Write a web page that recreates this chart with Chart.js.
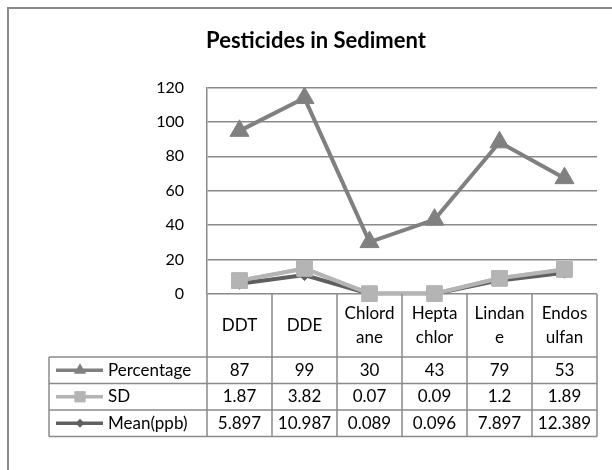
<!DOCTYPE html>
<html><head><meta charset="utf-8">
<script src="https://cdn.jsdelivr.net/npm/chart.js@4.4.1/dist/chart.umd.min.js"></script>
<style>html,body{margin:0;padding:0;background:#fff}#wrap{width:612px;height:470px;position:relative}</style>
</head><body><div id="wrap"><canvas id="c" width="612" height="470"></canvas></div>
<script>
const categories = ["DDT","DDE","Chlordane","Heptachlor","Lindane","Endosulfan"];
const headerLabels = [["DDT"],["DDE"],["Chlord","ane"],["Hepta","chlor"],["Lindan","e"],["Endos","ulfan"]];
const meanPpb = [5.897,10.987,0.089,0.096,7.897,12.389];
const sdValues = [1.87,3.82,0.07,0.09,1.2,1.89];
const percentage = [87,99,30,43,79,53];
const seriesNames = ["Mean(ppb)","SD","Percentage"];
const yMin = 0, yMax = 120, yStep = 20;

const FONT = "Lato, 'Open Sans', sans-serif";
const GRID = "#8a8a8a";
const C_PCT = "#808080", C_SD = "#b4b4b4", C_MEAN = "#5f5f5f";

function drawMarker(ctx, style, x, y, r, color){
  ctx.save(); ctx.fillStyle = color; ctx.beginPath();
  if (style === 'triangle'){
    ctx.moveTo(x, y - r); ctx.lineTo(x + r*0.866, y + r*0.5); ctx.lineTo(x - r*0.866, y + r*0.5);
  } else if (style === 'rect'){
    const s = r*0.7071; ctx.rect(x - s, y - s, 2*s, 2*s);
  } else {
    ctx.moveTo(x, y - r); ctx.lineTo(x + r, y); ctx.lineTo(x, y + r); ctx.lineTo(x - r, y);
  }
  ctx.closePath(); ctx.fill(); ctx.restore();
}

const framePlugin = {
  id: 'frame',
  beforeDraw(chart){
    const ctx = chart.ctx;
    ctx.save(); ctx.strokeStyle = GRID; ctx.lineWidth = 2;
    ctx.beginPath(); ctx.moveTo(8, chart.height); ctx.lineTo(8, 8); ctx.lineTo(chart.width, 8); ctx.stroke();
    ctx.restore();
  },
  afterDatasetsDraw(chart){
    // Excel paints SD markers above the Mean series
    chart.getDatasetMeta(1).controller.draw();
  }
};

const tablePlugin = {
  id: 'dataTable',
  afterDraw(chart){
    const ctx = chart.ctx, xs = chart.scales.x, ca = chart.chartArea;
    const n = categories.length, w = (xs.right - xs.left) / n;
    const edges = []; for (let i = 0; i <= n; i++) edges.push(xs.left + i*w);
    const hdrTop = ca.bottom, hdrBot = ca.bottom + 63, rowH = 26.5;
    const tLeft = 49;
    const rows = [
      {name: 'Percentage', vals: percentage, color: C_PCT, style: 'triangle', r: 7},
      {name: 'SD', vals: sdValues, color: C_SD, style: 'rect', r: 8},
      {name: 'Mean(ppb)', vals: meanPpb, color: C_MEAN, style: 'rectRot', r: 4.5}
    ];
    const tBot = hdrBot + rows.length*rowH;
    ctx.save();
    ctx.strokeStyle = GRID; ctx.lineWidth = 1.5;
    ctx.beginPath();
    for (let i = 0; i <= n; i++){ ctx.moveTo(edges[i], hdrTop); ctx.lineTo(edges[i], tBot); }
    ctx.moveTo(tLeft, hdrBot); ctx.lineTo(tLeft, tBot);
    for (let r = 0; r <= rows.length; r++){ const y = hdrBot + r*rowH; ctx.moveTo(tLeft, y); ctx.lineTo(xs.right, y); }
    ctx.stroke();
    ctx.fillStyle = '#000'; ctx.font = "17px " + FONT; ctx.textAlign = 'center'; ctx.textBaseline = 'middle';
    const hc = (hdrTop + hdrBot) / 2;
    for (let i = 0; i < n; i++){
      const lines = headerLabels[i], cx = xs.getPixelForValue(i);
      lines.forEach((t, k) => ctx.fillText(t, cx, hc + (k - (lines.length-1)/2) * 24));
    }
    rows.forEach((row, r) => {
      const cy = hdrBot + r*rowH + rowH/2;
      ctx.strokeStyle = row.color; ctx.lineWidth = 3.5;
      ctx.beginPath(); ctx.moveTo(tLeft + 7, cy); ctx.lineTo(tLeft + 54, cy); ctx.stroke();
      drawMarker(ctx, row.style, tLeft + 31, cy, row.r, row.color);
      ctx.fillStyle = '#000'; ctx.textAlign = 'left';
      ctx.fillText(row.name, tLeft + 59, cy);
      ctx.textAlign = 'center';
      row.vals.forEach((v, i) => ctx.fillText(String(v), xs.getPixelForValue(i), cy));
    });
    ctx.restore();
  }
};

new Chart(document.getElementById('c'), {
  type: 'line',
  data: {
    labels: categories,
    datasets: [
      {label: seriesNames[0], data: meanPpb, borderColor: C_MEAN, backgroundColor: C_MEAN, borderWidth: 4,
       pointStyle: 'rectRot', pointRadius: 5.5, pointBorderWidth: 1, tension: 0},
      {label: seriesNames[1], data: sdValues, borderColor: C_SD, backgroundColor: C_SD, borderWidth: 4,
       pointStyle: 'rect', pointRadius: 11, pointBorderWidth: 1, tension: 0},
      {label: seriesNames[2], data: percentage, borderColor: C_PCT, backgroundColor: C_PCT, borderWidth: 4,
       pointStyle: 'triangle', pointRadius: 11, pointBorderWidth: 1, tension: 0}
    ]
  },
  options: {
    responsive: false, animation: false,
    layout: {padding: {left: 35, right: 15, top: 0, bottom: 176}},
    plugins: {
      legend: {display: false}, tooltip: {enabled: false},
      title: {display: true, text: 'Pesticides in Sediment', color: '#000',
        font: {family: FONT, size: 22, weight: 'bold'}, padding: {top: 28, bottom: 33}}
    },
    scales: {
      x: {offset: true, grid: {display: false}, border: {display: false}, ticks: {display: false},
          afterFit(s){ s.height = 0; }},
      y: {stacked: true, min: yMin, max: yMax,
          ticks: {stepSize: yStep, color: '#000', font: {family: FONT, size: 16}, padding: 23},
          grid: {color: GRID, lineWidth: 1.5, drawTicks: false},
          border: {color: GRID, width: 1.5},
          afterFit(s){ s.width = 172; }}
    }
  },
  plugins: [framePlugin, tablePlugin]
});
</script></body></html>
